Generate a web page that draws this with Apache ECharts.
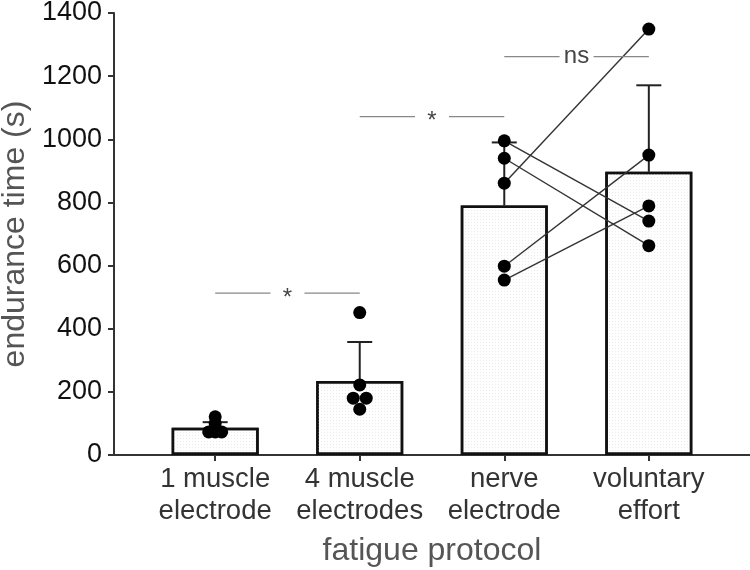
<!DOCTYPE html>
<html>
<head>
<meta charset="utf-8">
<script src="https://cdn.jsdelivr.net/npm/echarts@6/dist/echarts.min.js"></script>
<style>html,body{margin:0;padding:0;background:#fff}#c{width:750px;height:570px}</style>
</head>
<body>
<div id="c"></div>
<script>
// ---- data ----
const categories = ['1 muscle\nelectrode', '4 muscle\nelectrodes', 'nerve\nelectrode', 'voluntary\neffort'];
const yTicks = [0, 200, 400, 600, 800, 1000, 1200, 1400];
const means = [86, 234, 790, 897];
const errUpper = [104, 358, 990, 1171];
const pts1Muscle = [121, 100, 73, 73, 73];
const pts4Muscle = [451, 222, 180, 180, 145];
const ptsNerve = [995, 940, 861, 598, 554];       // paired with ptsVoluntary (same subject order)
const ptsVoluntary = [741, 663, 1349, 950, 789];
const sigFrom = [0, 1, 2];
const sigTo = [1, 2, 3];
const sigY = [513, 1072, 1262];
const sigLabel = ['*', '*', 'ns'];

// ---- build ----
const FONT = '"Liberation Sans", Arial, sans-serif';
const groups = [pts1Muscle, pts4Muscle, ptsNerve, ptsVoluntary];
const scatterData = [];
groups.forEach((arr, gi) => {
  const counts = {};
  arr.forEach(v => { counts[v] = (counts[v] || 0) + 1; });
  const seen = {};
  arr.forEach(v => {
    const n = counts[v];
    const k = seen[v] = (seen[v] || 0) + 1;
    let off = 0;
    if (n === 2) off = (k === 1 ? -0.045 : 0.045);
    if (n === 3) off = [-0.045, 0.045, 0][k - 1];
    scatterData.push([gi + off, v]);
  });
});

const pairSeries = ptsNerve.map((v, i) => ({
  type: 'line',
  data: [[2, v], [3, ptsVoluntary[i]]],
  symbol: 'none',
  lineStyle: { color: '#333', width: 1.4 },
  silent: true,
  z: 4,
  animation: false
}));

const chart = echarts.init(document.getElementById('c'), null, { renderer: 'canvas' });
chart.setOption({
  animation: false,
  backgroundColor: '#fff',
  grid: { left: 114, right: 0, top: 13, bottom: 115, containLabel: false, outerBoundsMode: 'none' },
  xAxis: {
    type: 'value',
    min: -0.7,
    max: 3.7,
    splitLine: { show: false },
    axisLine: { show: true, onZero: false, lineStyle: { color: '#333', width: 2 } },
    axisTick: { show: true, customValues: [0, 1, 2, 3], length: 6, lineStyle: { color: '#333', width: 2 } },
    axisLabel: {
      customValues: [0, 1, 2, 3],
      formatter: v => categories[Math.round(v)],
      fontFamily: FONT, fontSize: 27.5, color: '#333', lineHeight: 32, margin: 8
    },
    name: 'fatigue protocol',
    nameLocation: 'middle',
    nameGap: 80,
    nameTextStyle: { fontFamily: FONT, fontSize: 32, color: '#555' }
  },
  yAxis: {
    type: 'value',
    min: yTicks[0],
    max: yTicks[yTicks.length - 1],
    interval: yTicks[1] - yTicks[0],
    splitLine: { show: false },
    axisLine: { show: true, onZero: false, lineStyle: { color: '#333', width: 2 } },
    axisTick: { show: true, length: 6, lineStyle: { color: '#333', width: 2 } },
    axisLabel: { fontFamily: FONT, fontSize: 27, color: '#111', margin: 12, formatter: v => String(v) },
    name: 'endurance time (s)',
    nameLocation: 'middle',
    nameGap: 74,
    nameTextStyle: { fontFamily: FONT, fontSize: 32, color: '#555' }
  },
  series: [
    {
      type: 'bar',
      data: means.map((m, i) => [i, m]),
      barWidth: 87,
      itemStyle: {
        color: '#fefefe',
        borderColor: '#111',
        borderWidth: 2.5,
        decal: { symbol: 'rect', symbolSize: 1, dashArrayX: [1, 2], dashArrayY: [1, 2], color: '#ececec' }
      },
      z: 2
    },
    {
      type: 'custom',
      data: means.map((m, i) => [i, errUpper[i], m]),
      renderItem: (params, api) => {
        const x = api.value(0);
        const top = api.coord([x, api.value(1)]);
        const base = api.coord([x, api.value(2)]);
        const cw = 12.5;
        return {
          type: 'group',
          children: [
            { type: 'line', shape: { x1: base[0], y1: base[1], x2: top[0], y2: top[1] }, style: { stroke: '#222', lineWidth: 2 } },
            { type: 'line', shape: { x1: top[0] - cw, y1: top[1], x2: top[0] + cw, y2: top[1] }, style: { stroke: '#222', lineWidth: 2 } }
          ]
        };
      },
      z: 3
    },
    ...pairSeries,
    {
      type: 'scatter',
      data: scatterData,
      symbol: 'circle',
      symbolSize: 13,
      itemStyle: { color: '#000', opacity: 1 },
      z: 6
    },
    {
      type: 'custom',
      data: sigY.map((y, i) => [sigFrom[i], sigTo[i], y, i]),
      renderItem: (params, api) => {
        const a = api.coord([api.value(0), api.value(2)]);
        const b = api.coord([api.value(1), api.value(2)]);
        const mid = (a[0] + b[0]) / 2;
        const gap = 17;
        const label = sigLabel[api.value(3)];
        return {
          type: 'group',
          children: [
            { type: 'line', shape: { x1: a[0], y1: a[1], x2: mid - gap, y2: a[1] }, style: { stroke: '#888', lineWidth: 1.3 } },
            { type: 'line', shape: { x1: mid + gap, y1: a[1], x2: b[0], y2: b[1] }, style: { stroke: '#888', lineWidth: 1.3 } },
            { type: 'text', x: mid, y: a[1] + (label === '*' ? 5 : 0), style: { text: label, fontFamily: FONT, fontSize: 24, fill: '#444', align: 'center', verticalAlign: 'middle' } }
          ]
        };
      },
      z: 5
    }
  ]
});
</script>
</body>
</html>
